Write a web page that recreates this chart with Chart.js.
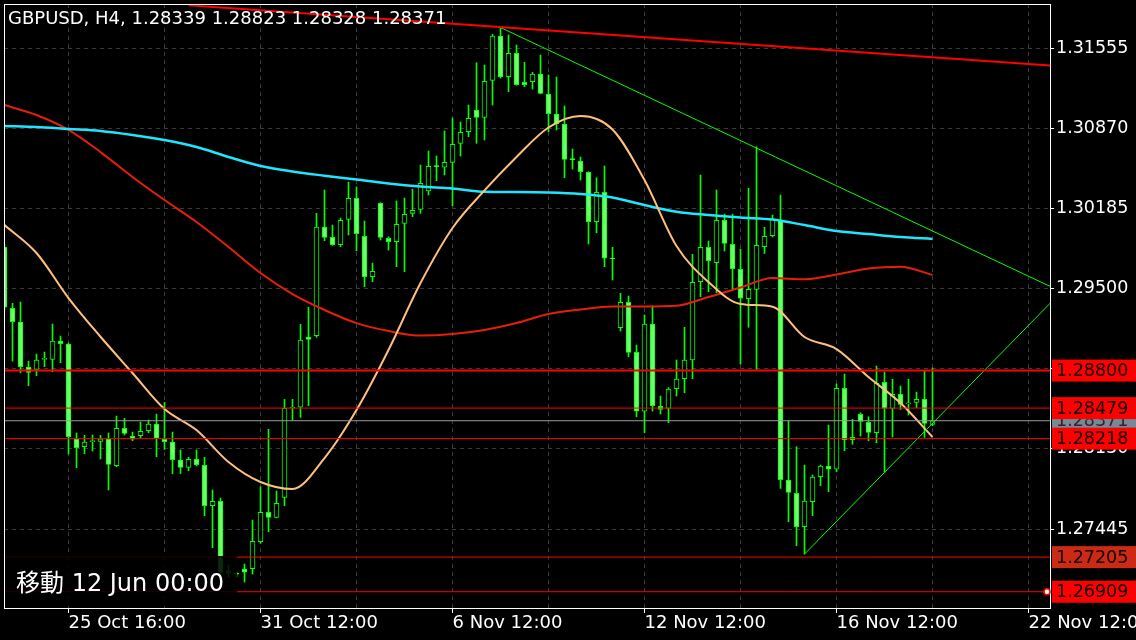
<!DOCTYPE html>
<html>
<head>
<meta charset="utf-8">
<script src="https://cdn.jsdelivr.net/npm/chart.js@4.4.1/dist/chart.umd.min.js"></script>
<style>
  html, body { margin: 0; padding: 0; background: #000; }
  canvas { display: block; }
</style>
</head>
<body>
<canvas id="chart" width="1136" height="640"></canvas>
<script>
// GBPUSD H4
const titleText = 'GBPUSD, H4, 1.28339 1.28823 1.28328 1.28371';
const noteText = '移動 12 Jun 00:00';

const opens = [
  1.29854, 1.29332, 1.29215, 1.28830, 1.28810, 1.28895, 1.28896, 1.29052, 1.29027, 1.28214,
  1.28149, 1.28192, 1.28195, 1.28214, 1.27986, 1.28306, 1.28238, 1.28243, 1.28286, 1.28343,
  1.28212, 1.28189, 1.28035, 1.27971, 1.28041, 1.27990, 1.27644, 1.27682, 1.27086, 1.27064,
  1.27103, 1.27106, 1.27337, 1.27588, 1.27545, 1.27716, 1.28480, 1.28486, 1.29087, 1.29098,
  1.30027, 1.29939, 1.29876, 1.30093, 1.30273, 1.29948, 1.29602, 1.30230, 1.29931, 1.29902,
  1.30059, 1.30144, 1.30178, 1.30335, 1.30546, 1.30538, 1.30580, 1.30743, 1.30842, 1.31028,
  1.30965, 1.31281, 1.31660, 1.31312, 1.31512, 1.31264, 1.31269, 1.31335, 1.31164, 1.30993,
  1.30908, 1.30606, 1.30592, 1.30495, 1.30073, 1.30324, 1.29760, 1.29166, 1.29383, 1.28956,
  1.28453, 1.29198, 1.28495, 1.28477, 1.28645, 1.28730, 1.28890, 1.29560, 1.29854, 1.29722,
  1.30084, 1.29879, 1.29666, 1.29414, 1.29494, 1.29859, 1.29953, 1.30087, 1.27864, 1.27750,
  1.27465, 1.27679, 1.27892, 1.27984, 1.27956, 1.28648, 1.28229, 1.28426, 1.28357, 1.28268,
  1.28700, 1.28477, 1.28597, 1.28515, 1.28528, 1.28554, 1.28339
];
const highs = [
  1.29873, 1.29375, 1.29386, 1.28881, 1.28941, 1.28958, 1.29198, 1.29095, 1.29035, 1.28266,
  1.28246, 1.28249, 1.28246, 1.28266, 1.28411, 1.28392, 1.28274, 1.28360, 1.28377, 1.28428,
  1.28528, 1.28274, 1.28121, 1.28058, 1.28121, 1.28058, 1.27779, 1.27710, 1.27137, 1.27077,
  1.27146, 1.27522, 1.27807, 1.28298, 1.27770, 1.28553, 1.28554, 1.29195, 1.29341, 1.30144,
  1.30344, 1.30044, 1.30104, 1.30412, 1.30369, 1.30078, 1.29719, 1.30235, 1.29944, 1.30250,
  1.30275, 1.30350, 1.30557, 1.30677, 1.30634, 1.30848, 1.30959, 1.30925, 1.31070, 1.31432,
  1.31412, 1.31675, 1.31726, 1.31669, 1.31583, 1.31435, 1.31350, 1.31498, 1.31327, 1.31310,
  1.31062, 1.30694, 1.30626, 1.30500, 1.30449, 1.30549, 1.29854, 1.29460, 1.29437, 1.29018,
  1.29275, 1.29354, 1.28582, 1.28654, 1.28890, 1.29170, 1.29794, 1.30472, 1.29908, 1.30344,
  1.30138, 1.30138, 1.29839, 1.30358, 1.30714, 1.30025, 1.30130, 1.30301, 1.28371, 1.28149,
  1.27992, 1.27907, 1.27992, 1.28334, 1.28685, 1.28770, 1.28383, 1.28439, 1.28405, 1.28839,
  1.28787, 1.28725, 1.28668, 1.28725, 1.28616, 1.28796, 1.28823
];
const lows = [
  1.29318, 1.28881, 1.28781, 1.28670, 1.28756, 1.28833, 1.28790, 1.28867, 1.28086, 1.27969,
  1.28089, 1.28112, 1.28044, 1.27779, 1.27978, 1.28249, 1.28200, 1.28223, 1.28268, 1.28063,
  1.28126, 1.27918, 1.27920, 1.27944, 1.27986, 1.27559, 1.27285, 1.27009, 1.27035, 1.27035,
  1.26992, 1.27060, 1.27323, 1.27422, 1.27540, 1.27644, 1.28377, 1.28400, 1.28499, 1.29084,
  1.29910, 1.29870, 1.29859, 1.29959, 1.29824, 1.29517, 1.29560, 1.29916, 1.29830, 1.29688,
  1.29645, 1.30115, 1.30144, 1.30301, 1.30423, 1.30472, 1.30209, 1.30634, 1.30799, 1.30743,
  1.30771, 1.31070, 1.31300, 1.31184, 1.31240, 1.31227, 1.31207, 1.31165, 1.30842, 1.30857,
  1.30449, 1.30523, 1.30429, 1.29882, 1.29978, 1.29688, 1.29574, 1.29138, 1.28918, 1.28405,
  1.28268, 1.28453, 1.28428, 1.28354, 1.28582, 1.28610, 1.28730, 1.29431, 1.29474, 1.29465,
  1.29822, 1.29494, 1.28856, 1.29170, 1.28810, 1.29801, 1.29942, 1.27793, 1.27508, 1.27302,
  1.27231, 1.27559, 1.27815, 1.27764, 1.27935, 1.28115, 1.28169, 1.28240, 1.28200, 1.28183,
  1.27932, 1.28232, 1.28468, 1.28420, 1.28482, 1.28229, 1.28328
];
const closes = [
  1.29341, 1.29217, 1.28833, 1.28785, 1.28890, 1.28899, 1.29052, 1.29029, 1.28234, 1.28140,
  1.28189, 1.28195, 1.28217, 1.27998, 1.28306, 1.28263, 1.28214, 1.28281, 1.28343, 1.28223,
  1.28191, 1.28038, 1.27971, 1.28041, 1.27995, 1.27644, 1.27682, 1.27077, 1.27069, 1.27060,
  1.27077, 1.27340, 1.27588, 1.27545, 1.27665, 1.28477, 1.28486, 1.29061, 1.29067, 1.30027,
  1.29939, 1.29876, 1.30084, 1.30273, 1.29970, 1.29602, 1.29648, 1.29939, 1.29902, 1.30050,
  1.30136, 1.30170, 1.30401, 1.30546, 1.30543, 1.30580, 1.30734, 1.30837, 1.30957, 1.30965,
  1.31273, 1.31660, 1.31312, 1.31512, 1.31244, 1.31244, 1.31335, 1.31170, 1.30996, 1.30910,
  1.30606, 1.30603, 1.30500, 1.30073, 1.30324, 1.29760, 1.29754, 1.29383, 1.28956, 1.28453,
  1.29198, 1.28499, 1.28468, 1.28642, 1.28728, 1.28890, 1.29554, 1.29854, 1.29739, 1.30084,
  1.29888, 1.29671, 1.29418, 1.29494, 1.29871, 1.29948, 1.30096, 1.27868, 1.27759, 1.27465,
  1.27684, 1.27890, 1.27984, 1.27956, 1.28648, 1.28206, 1.28206, 1.28366, 1.28272, 1.28691,
  1.28477, 1.28597, 1.28511, 1.28520, 1.28554, 1.28349, 1.28371
];

// moving averages, read every 4 bars
const maIdx = [0, 4, 8, 12, 16, 20, 24, 28, 32, 36, 40, 44, 48, 52, 56, 60, 64, 68, 72, 76, 80, 84, 88, 92, 96, 100, 104, 108, 112, 116];
const maFast = [
  1.30044, 1.29805, 1.29420, 1.29089, 1.28779, 1.28471, 1.28291, 1.28018, 1.27847, 1.27787,
  1.28052, 1.28463, 1.28976, 1.29548, 1.30019, 1.30340, 1.30626, 1.30878, 1.30976, 1.30861,
  1.30429, 1.29865, 1.29557, 1.29369, 1.29346, 1.29087, 1.28984, 1.28745, 1.28522, 1.28232
];
const maMid = [
  1.31070, 1.30985, 1.30857, 1.30668, 1.30455, 1.30258, 1.30070, 1.29856, 1.29634, 1.29454,
  1.29318, 1.29206, 1.29138, 1.29099, 1.29112, 1.29147, 1.29206, 1.29283, 1.29322, 1.29347,
  1.29347, 1.29354, 1.29429, 1.29510, 1.29591, 1.29580, 1.29621, 1.29672, 1.29687, 1.29617
];
const maSlow = [
  1.30891, 1.30882, 1.30865, 1.30848, 1.30814, 1.30771, 1.30711, 1.30626, 1.30549, 1.30502,
  1.30466, 1.30433, 1.30399, 1.30373, 1.30356, 1.30328, 1.30326, 1.30322, 1.30309, 1.30279,
  1.30215, 1.30158, 1.30130, 1.30108, 1.30091, 1.30044, 1.29993, 1.29967, 1.29942, 1.29925
];

// drawn objects
const levels = [1.28800, 1.28479, 1.28218, 1.27205, 1.26909];
const bidPrice = 1.28371;
const redTrendIdx = [23, 131];
const redTrendPrice = [1.31923, 1.31406];
const downTrendIdx = [62, 131];
const downTrendPrice = [1.31733, 1.29510];
const upTrendIdx = [100, 131];
const upTrendPrice = [1.27231, 1.29396];

// axes
const xTickIdx = [8, 20, 32, 44, 56, 68, 80, 92, 104, 116, 128];
const xTickLabels = ['25 Oct 16:00', '', '31 Oct 12:00', '', '6 Nov 12:00', '', '12 Nov 12:00', '', '16 Nov 12:00', '', '22 Nov 12:00'];
const yTicks = [1.27445, 1.28130, 1.28815, 1.29500, 1.30185, 1.30870, 1.31555];

const X_MIN = -0.0625, X_MAX = 130.6875;
const Y_MIN = 1.26770, Y_MAX = 1.31934;

const FONT = '"DejaVu Sans", "Noto Sans CJK JP", sans-serif';
const levelWidths = [2, 1, 1, 1, 1];
const levelBoxColors = ['#ff0000', '#ff0000', '#ff0000', '#cc2a14', '#ff0000'];

const pts = (xs, ys) => xs.map((x, k) => ({ x, y: ys[k] }));
const isBull = i => closes[i] > opens[i];

const lineDs = (data, color, width, order) => ({
  type: 'line', data, borderColor: color, borderWidth: width,
  pointRadius: 0, order, cubicInterpolationMode: 'monotone'
});

const datasets = [
  // wicks
  {
    type: 'bar', order: 6, grouped: false, barThickness: 1,
    data: highs.map((h, i) => ({ x: i, y: [lows[i], h] })),
    backgroundColor: '#00ff00', borderWidth: 0
  },
  // bodies
  {
    type: 'bar', order: 5, grouped: false, barThickness: 5, minBarLength: 1,
    data: opens.map((o, i) => ({ x: i, y: [o, closes[i]] })),
    backgroundColor: ctx => isBull(ctx.dataIndex) ? '#000000' : '#6cff6c',
    borderColor: '#00ff00', borderWidth: 1, borderSkipped: false
  },
  lineDs(pts(maIdx, maSlow), '#1ee6ff', 2.5, 4),
  lineDs(pts(maIdx, maMid), '#e61e0a', 2, 4),
  lineDs(pts(maIdx, maFast), '#ffbf7f', 2, 3),
  lineDs(pts(redTrendIdx, redTrendPrice), '#ff0000', 2, 2),
  lineDs(pts(downTrendIdx, downTrendPrice), '#00ff00', 1, 2),
  lineDs(pts(upTrendIdx, upTrendPrice), '#00ff00', 1, 2),
  lineDs(pts([X_MIN, X_MAX], [bidPrice, bidPrice]), '#9a9a9a', 1, 1),
  ...levels.map((lv, k) => lineDs(pts([X_MIN, X_MAX], [lv, lv]), '#ff0000', levelWidths[k], 1))
];

const blackBg = {
  id: 'blackBg',
  beforeDraw(chart) {
    const c = chart.ctx;
    c.save();
    c.fillStyle = '#000';
    c.fillRect(0, 0, chart.width, chart.height);
    c.restore();
  }
};

const overlay = {
  id: 'overlay',
  afterDraw(chart) {
    const c = chart.ctx;
    const a = chart.chartArea;
    const ys = chart.scales.y;
    c.save();

    // frame
    c.strokeStyle = '#ffffff';
    c.lineWidth = 1;
    c.strokeRect(a.left + 0.5, a.top + 0.5, a.right - a.left, a.bottom - a.top);

    // title
    c.fillStyle = '#ffffff';
    c.font = '18px ' + FONT;
    c.textBaseline = 'middle';
    c.textAlign = 'left';
    c.fillText(titleText, 8, 19);

    // price boxes on the right axis
    const box = (v, bg, fg) => {
      const y = ys.getPixelForValue(v);
      c.fillStyle = bg;
      c.fillRect(a.right + 2, y - 11, chart.width - a.right - 2, 22);
      c.fillStyle = fg;
      c.font = '17.5px ' + FONT;
      c.fillText(v.toFixed(5), a.right + 6, y + 1);
    };
    box(bidPrice, '#778899', '#2a2a2a');
    levels.forEach((lv, k) => box(lv, levelBoxColors[k], '#100000'));

    // marker on the lowest level
    const ym = ys.getPixelForValue(levels[4]);
    c.beginPath();
    c.arc(a.right - 3, ym, 3, 0, Math.PI * 2);
    c.fillStyle = '#ffffff';
    c.fill();
    c.strokeStyle = '#ff0000';
    c.lineWidth = 1.5;
    c.stroke();

    // scroll note, bottom left
    c.fillStyle = 'rgba(0,0,0,0.85)';
    c.fillRect(a.left + 1, 556, 232, 50);
    c.fillStyle = '#ffffff';
    c.font = '24px ' + FONT;
    c.fillText(noteText, 16, 585);

    c.restore();
  }
};

new Chart(document.getElementById('chart'), {
  type: 'bar',
  data: { datasets },
  options: {
    responsive: false,
    animation: false,
    devicePixelRatio: 1,
    events: [],
    layout: { padding: { left: 4, top: 4, right: 0, bottom: 0 } },
    plugins: { legend: { display: false }, tooltip: { enabled: false } },
    scales: {
      x: {
        type: 'linear', position: 'bottom', min: X_MIN, max: X_MAX, offset: false,
        afterBuildTicks: s => { s.ticks = xTickIdx.map(v => ({ value: v })); },
        afterFit: s => { s.height = 32; s.paddingLeft = 0; s.paddingRight = 0; },
        ticks: {
          autoSkip: false, maxRotation: 0, minRotation: 0, align: 'start', padding: 0,
          color: '#ffffff', font: { family: FONT, size: 18 },
          callback: (v, k) => xTickLabels[k]
        },
        grid: {
          offset: false, color: '#3a3a3a', lineWidth: 1, tickLength: 5,
          tickColor: ctx => xTickLabels[ctx.index] ? '#ffffff' : 'rgba(0,0,0,0)'
        },
        border: { display: false, dash: [4, 4] }
      },
      y: {
        type: 'linear', position: 'right', min: Y_MIN, max: Y_MAX,
        afterBuildTicks: s => { s.ticks = yTicks.map(v => ({ value: v })); },
        afterFit: s => { s.width = 86; s.paddingTop = 0; s.paddingBottom = 0; },
        ticks: {
          padding: 2, color: '#ffffff', font: { family: FONT, size: 17.5 },
          callback: v => v.toFixed(5)
        },
        grid: { color: '#3a3a3a', lineWidth: 1, tickLength: 4, tickColor: '#ffffff' },
        border: { display: false, dash: [4, 4] }
      }
    }
  },
  plugins: [blackBg, overlay]
});
</script>
</body>
</html>
